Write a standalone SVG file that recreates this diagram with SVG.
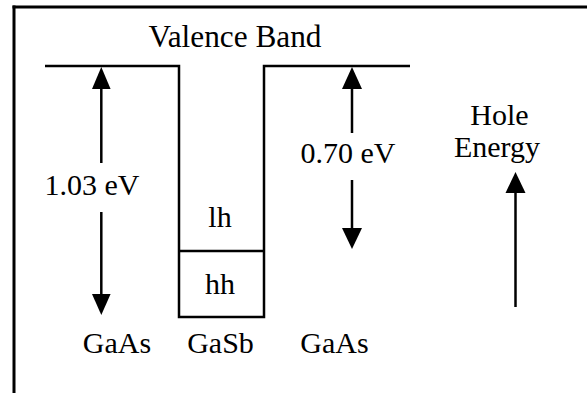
<svg xmlns="http://www.w3.org/2000/svg" width="587" height="393" viewBox="0 0 587 393">
<style>
  .frame { stroke: #000; stroke-width: 3; fill: none; }
  .band { stroke: #000; stroke-width: 2.5; fill: none; stroke-linejoin: miter; }
  .shaft { stroke: #000; stroke-width: 2.5; fill: none; }
  .head { fill: #000; stroke: none; }
  .lbl { font-family: "Liberation Serif", "Times New Roman", serif; font-size: 30px; fill: #000; text-anchor: middle; }
  .title { font-size: 31.3px; }
</style>
<rect width="587" height="393" fill="#fff"/>
<g id="frame">
  <line class="frame" x1="12.5" y1="7" x2="587" y2="7"/>
  <line class="frame" x1="14" y1="5.5" x2="14" y2="393"/>
</g>
<g id="valence-band">
  <polyline class="band" points="45,66 179,66 179,317 264,317 264,66 410,66"/>
  <line class="band" x1="179" y1="251" x2="264" y2="251"/>
  <text class="lbl title" x="235" y="46.5">Valence Band</text>
</g>
<g id="connectors">
  <line class="shaft" x1="101.3" y1="163" x2="101.3" y2="88"/>
  <polygon class="head" points="101.3,67 92,89 110.6,89"/>
  <line class="shaft" x1="101.3" y1="212" x2="101.3" y2="295"/>
  <polygon class="head" points="92,294 110.6,294 101.3,315"/>
  <line class="shaft" x1="352" y1="133" x2="352" y2="88"/>
  <polygon class="head" points="352,67 342,89 362,89"/>
  <line class="shaft" x1="352" y1="180" x2="352" y2="229"/>
  <polygon class="head" points="342,228 362,228 352,249"/>
  <line class="shaft" x1="515.5" y1="307" x2="515.5" y2="192"/>
  <polygon class="head" points="515.5,172 505.5,193 525.5,193"/>
</g>
<g id="label-103">
  <text class="lbl" x="92" y="195">1.03 eV</text>
</g>
<g id="label-070">
  <text class="lbl" x="348" y="163">0.70 eV</text>
</g>
<g id="label-hole-energy">
  <text class="lbl" x="499.5" y="125">Hole</text>
  <text class="lbl" x="497" y="157">Energy</text>
</g>
<g id="well-levels">
  <text class="lbl" x="220" y="227">lh</text>
  <text class="lbl" x="220" y="294">hh</text>
</g>
<g id="materials">
  <text class="lbl" x="117" y="353">GaAs</text>
  <text class="lbl" x="220.5" y="353">GaSb</text>
  <text class="lbl" x="334.5" y="353">GaAs</text>
</g>
</svg>
